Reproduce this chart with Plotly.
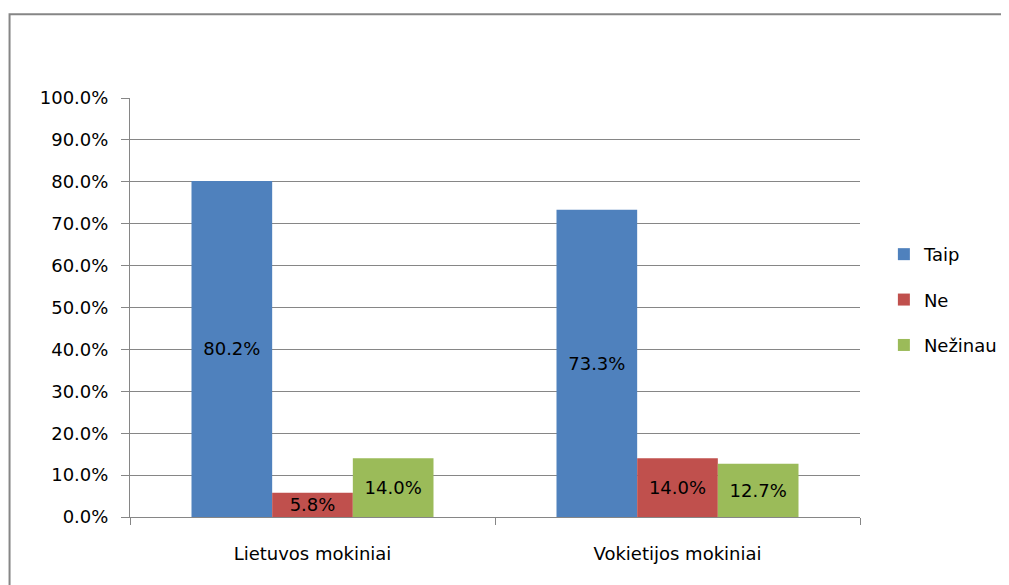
import plotly.graph_objects as go

categories = ["Lietuvos mokiniai", "Vokietijos mokiniai"]
taip = [0.802, 0.733]
ne = [0.058, 0.140]
nezinau = [0.140, 0.127]

series = [("Taip", taip, "#4F81BD"), ("Ne", ne, "#C0504D"), ("Nežinau", nezinau, "#9BBB59")]
font = "DejaVu Sans"

fig = go.Figure()
for i, (name, vals, color) in enumerate(series):
    fig.add_trace(go.Bar(
        x=categories, y=vals, name=name, marker_color=color, marker_line_width=0,
        texttemplate="%{y:.1%}", textposition="inside", insidetextanchor="middle",
        constraintext="none", textfont=dict(color="black", size=18, family=font),
        legendgroup=str(i),
    ))

# page body has an 8px margin, so the figure is drawn 8px in from the window edge
fig.update_layout(
    width=1001, height=577,
    barmode="group", bargap=0.337, bargroupgap=0,
    plot_bgcolor="white", paper_bgcolor="white",
    margin=dict(l=122, r=149, t=90, b=68),
    font=dict(family=font, size=18, color="black"),
    legend=dict(x=0.875, xref="container", y=0.518, yanchor="middle", xanchor="left",
                traceorder="grouped", tracegroupgap=19,
                font=dict(size=18, family=font)),
    showlegend=True,
)
fig.update_yaxes(range=[0, 1], dtick=0.1, tickformat=".1%", showgrid=True,
                 gridcolor="#868686", gridwidth=1, showline=True, linecolor="#868686",
                 ticks="outside", ticklen=8, tickcolor="#868686", ticklabelstandoff=9,
                 zeroline=False)
fig.update_xaxes(showline=True, linecolor="#868686", ticks="outside", ticklen=7,
                 tickcolor="#868686", tickson="boundaries", ticklabelstandoff=20,
                 showgrid=False)

# chart area border
fig.add_shape(type="rect", xref="paper", yref="paper", x0=-0.165, x1=1.6, y0=-0.5, y1=1.2,
              line=dict(color="#868686", width=2), fillcolor="rgba(0,0,0,0)", layer="below")

fig.write_html("out.html")
